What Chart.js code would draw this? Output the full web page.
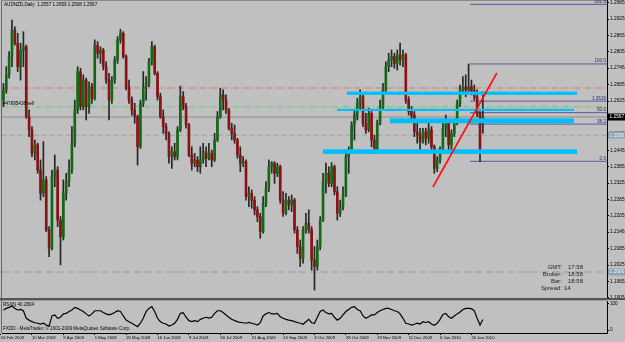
<!DOCTYPE html>
<html><head><meta charset="utf-8">
<script src="https://cdn.jsdelivr.net/npm/chart.js@4.4.1/dist/chart.umd.min.js"></script>
<style>
html,body{margin:0;padding:0;background:#c0c0c0;}
#wrap{position:relative;width:625px;height:342px;overflow:hidden;background:#c0c0c0;}
canvas{position:absolute;left:0;}
#main{top:0;}
#ind{top:300px;}
</style></head><body>
<div id="wrap"><canvas id="main" width="625" height="300"></canvas><canvas id="ind" width="625" height="42"></canvas></div>
<script>
// ---------- DATA ----------
const openP = [
1.2629,1.2666,1.2721,1.2788,1.2885,1.2837,1.2751,1.2812,1.2824,1.2568,
1.2520,1.2434,1.2465,1.2373,1.2288,1.2337,1.2154,1.2087,1.2349,1.2373,
1.2190,1.2129,1.2288,1.2331,1.2373,1.2471,1.2593,1.2733,1.2605,1.2702,
1.2605,1.2678,1.2635,1.2830,1.2800,1.2812,1.2751,1.2702,1.2629,1.2702,
1.2776,1.2849,1.2873,1.2788,1.2678,1.2629,1.2593,1.2568,1.2458,1.2617,
1.2678,1.2690,1.2769,1.2824,1.2727,1.2641,1.2568,1.2532,1.2507,1.2422,
1.2440,1.2422,1.2520,1.2641,1.2605,1.2538,1.2428,1.2398,1.2410,1.2385,
1.2410,1.2440,1.2416,1.2434,1.2410,1.2483,1.2568,1.2648,1.2629,1.2593,
1.2526,1.2507,1.2483,1.2428,1.2398,1.2404,1.2276,1.2288,1.2263,1.2227,
1.2203,1.2148,1.2251,1.2306,1.2385,1.2398,1.2361,1.2385,1.2263,1.2215,
1.2263,1.2245,1.2263,1.2154,1.2093,1.2050,1.2154,1.2178,1.2154,1.2044,
1.2020,1.2093,1.2190,1.2331,1.2361,1.2324,1.2385,1.2294,1.2215,1.2239,
1.2282,1.2422,1.2446,1.2538,1.2574,1.2617,1.2641,1.2544,1.2520,1.2580,
1.2483,1.2452,1.2544,1.2605,1.2666,1.2751,1.2776,1.2788,1.2763,1.2794,
1.2776,1.2794,1.2629,1.2587,1.2574,1.2513,1.2501,1.2477,1.2513,1.2489,
1.2520,1.2458,1.2379,1.2410,1.2452,1.2526,1.2544,1.2465,1.2507,1.2544,
1.2617,1.2666,1.2676,1.2666,1.2678,1.2663,1.2641,1.2580,1.2557];
const highP = [
1.2690,1.2751,1.2806,1.2922,1.2897,1.2873,1.2837,1.2879,1.2830,1.2593,
1.2532,1.2483,1.2471,1.2410,1.2477,1.2349,1.2166,1.2373,1.2428,1.2385,
1.2203,1.2337,1.2361,1.2410,1.2532,1.2629,1.2751,1.2745,1.2721,1.2709,
1.2696,1.2690,1.2849,1.2843,1.2824,1.2818,1.2769,1.2727,1.2715,1.2788,
1.2861,1.2888,1.2879,1.2794,1.2702,1.2641,1.2617,1.2574,1.2629,1.2733,
1.2715,1.2782,1.2843,1.2830,1.2733,1.2654,1.2593,1.2544,1.2513,1.2458,
1.2471,1.2532,1.2680,1.2660,1.2617,1.2544,1.2458,1.2434,1.2422,1.2458,
1.2471,1.2458,1.2471,1.2446,1.2507,1.2587,1.2672,1.2666,1.2648,1.2599,
1.2544,1.2538,1.2489,1.2458,1.2422,1.2410,1.2312,1.2300,1.2276,1.2239,
1.2215,1.2276,1.2331,1.2410,1.2404,1.2404,1.2398,1.2391,1.2294,1.2288,
1.2276,1.2282,1.2270,1.2166,1.2117,1.2166,1.2215,1.2227,1.2166,1.2093,
1.2117,1.2203,1.2361,1.2398,1.2385,1.2400,1.2391,1.2312,1.2263,1.2312,
1.2446,1.2458,1.2550,1.2593,1.2635,1.2666,1.2648,1.2580,1.2599,1.2587,
1.2501,1.2556,1.2629,1.2690,1.2769,1.2800,1.2812,1.2800,1.2812,1.2837,
1.2812,1.2800,1.2641,1.2605,1.2587,1.2544,1.2526,1.2526,1.2526,1.2544,
1.2532,1.2465,1.2422,1.2458,1.2544,1.2574,1.2550,1.2520,1.2556,1.2629,
1.2684,1.2715,1.2721,1.2761,1.2702,1.2684,1.2666,1.2587,1.2659];
const lowP = [
1.2605,1.2654,1.2709,1.2751,1.2830,1.2733,1.2702,1.2751,1.2562,1.2495,
1.2422,1.2410,1.2361,1.2263,1.2276,1.2148,1.2056,1.2081,1.2312,1.2166,
1.2026,1.2117,1.2263,1.2312,1.2361,1.2458,1.2580,1.2593,1.2593,1.2556,
1.2580,1.2617,1.2629,1.2782,1.2763,1.2739,1.2690,1.2556,1.2617,1.2690,
1.2763,1.2837,1.2782,1.2666,1.2617,1.2574,1.2544,1.2391,1.2452,1.2605,
1.2629,1.2678,1.2757,1.2721,1.2629,1.2562,1.2507,1.2483,1.2398,1.2379,
1.2410,1.2410,1.2513,1.2593,1.2526,1.2422,1.2373,1.2385,1.2367,1.2361,
1.2398,1.2385,1.2410,1.2385,1.2404,1.2477,1.2562,1.2593,1.2580,1.2520,
1.2483,1.2471,1.2416,1.2367,1.2385,1.2263,1.2239,1.2233,1.2209,1.2184,
1.2123,1.2142,1.2239,1.2294,1.2361,1.2324,1.2349,1.2251,1.2203,1.2209,
1.2227,1.2221,1.2142,1.2068,1.2020,1.2032,1.2142,1.2142,1.2007,1.1934,
1.2007,1.2081,1.2184,1.2288,1.2312,1.2312,1.2282,1.2190,1.2203,1.2227,
1.2276,1.2361,1.2434,1.2483,1.2556,1.2593,1.2532,1.2507,1.2513,1.2458,
1.2434,1.2446,1.2538,1.2593,1.2660,1.2733,1.2751,1.2745,1.2739,1.2757,
1.2751,1.2617,1.2574,1.2556,1.2495,1.2471,1.2446,1.2471,1.2465,1.2471,
1.2446,1.2361,1.2367,1.2398,1.2446,1.2495,1.2440,1.2434,1.2495,1.2538,
1.2605,1.2654,1.2641,1.2654,1.2648,1.2629,1.2568,1.2404,1.2508];
const closeP = [
1.2666,1.2721,1.2788,1.2885,1.2837,1.2751,1.2812,1.2824,1.2568,1.2520,
1.2434,1.2465,1.2373,1.2288,1.2337,1.2154,1.2087,1.2349,1.2373,1.2190,
1.2129,1.2288,1.2331,1.2373,1.2471,1.2593,1.2733,1.2605,1.2702,1.2605,
1.2678,1.2635,1.2830,1.2800,1.2812,1.2751,1.2702,1.2629,1.2702,1.2776,
1.2849,1.2873,1.2788,1.2678,1.2629,1.2593,1.2568,1.2458,1.2617,1.2678,
1.2690,1.2769,1.2824,1.2727,1.2641,1.2568,1.2532,1.2507,1.2422,1.2440,
1.2422,1.2520,1.2641,1.2605,1.2538,1.2428,1.2398,1.2410,1.2385,1.2410,
1.2440,1.2416,1.2434,1.2410,1.2483,1.2568,1.2648,1.2629,1.2593,1.2526,
1.2507,1.2483,1.2428,1.2398,1.2404,1.2276,1.2288,1.2263,1.2227,1.2203,
1.2148,1.2251,1.2306,1.2385,1.2398,1.2361,1.2385,1.2263,1.2215,1.2263,
1.2245,1.2263,1.2154,1.2093,1.2050,1.2154,1.2178,1.2154,1.2044,1.2020,
1.2093,1.2190,1.2331,1.2361,1.2324,1.2385,1.2294,1.2215,1.2239,1.2282,
1.2422,1.2446,1.2538,1.2574,1.2617,1.2641,1.2544,1.2520,1.2580,1.2483,
1.2452,1.2544,1.2605,1.2666,1.2751,1.2776,1.2788,1.2763,1.2794,1.2776,
1.2794,1.2629,1.2587,1.2574,1.2513,1.2501,1.2477,1.2513,1.2489,1.2520,
1.2458,1.2379,1.2410,1.2452,1.2526,1.2544,1.2465,1.2507,1.2544,1.2617,
1.2666,1.2676,1.2666,1.2678,1.2663,1.2641,1.2580,1.2440,1.2567];
const rsiValues = [
77,83,87,92,83,77,79,74,45,38,
32,28,26,23,26,19,15,54,58,45,
49,62,64,71,77,87,83,77,71,62,
54,62,74,74,74,67,62,58,62,67,
74,71,54,38,32,26,19,13,26,45,
71,83,90,71,45,32,26,23,15,19,
26,41,64,67,49,36,32,36,32,41,
45,49,46,49,64,74,74,67,58,49,
41,36,32,29,28,26,29,26,23,19,
28,54,62,67,62,62,64,51,45,41,
38,36,32,29,26,22,32,41,28,26,
49,71,77,67,62,64,49,38,45,58,
71,79,87,90,79,74,54,45,51,58,
58,67,74,79,83,83,79,74,71,62,
45,26,23,19,22,26,23,32,29,32,
23,18,26,41,60,64,51,45,54,62,
69,79,83,83,82,74,45,19,40.28];
const priceTickValues = [1.2985,1.2925,1.2865,1.2805,1.2746,1.2685,1.2625,1.2565,1.2505,1.2445,1.2385,1.2325,1.2265,1.2205,1.2146,1.2085,1.2025,1.1965,1.1905];
const dateLabels = ['24 Feb 2009','10 Mar 2009','9 Apr 2009','1 May 2009','26 May 2009','16 Jun 2009','9 Jul 2009','30 Jul 2009','21 Aug 2009','14 Sep 2009','6 Oct 2009','28 Oct 2009','19 Nov 2009','11 Dec 2009','6 Jan 2010','20 Jan 2010'];
const dateTickBars = [-1,10,21,32,43,54,65,76,87,98,109,120,131,142,153,164];
const hLevels = [1.2673, 1.2604, 1.2567, 1.2500, 1.2000]; // red d-d, green d-d (sell), bid, grey dash, blue dash
const fibPrices = [1.2979, 1.2761, 1.2625, 1.2583, 1.2541, 1.2405];
const fibLabels = ['161.8','100.0','1.2626','50.0','38.2','0.0'];
const fibStartBar = 163.5;
const zones = [ // [fromBar, toBar, lowPrice, highPrice]
  [120.4, 201.0, 1.2648, 1.2660],
  [116.9, 199.9, 1.2589, 1.2597],
  [135.4, 199.9, 1.2544, 1.2562],
  [112.0, 201.0, 1.2432, 1.2449]];
const trendPts = [[150.5, 1.2311],[172.9, 1.2728]];
const titleText = 'AUDNZD,Daily  1.2557 1.2659 1.2508 1.2567';
const sellText = '#47695438 sell';
const infoLabels = ['GMT:','Broker:','Bar:','Spread:'];
const infoValues = ['17:58','18:58','18:58','14'];
const rsiTitle = 'RSI(6) 40.2804';
const copyText = 'FXDD - MetaTrader, \u00A9 2001-2009 MetaQuotes Software Corp.';

// ---------- CHART ----------
const FF = '"Liberation Sans", Arial, sans-serif';
const N = closeP.length;
const idx = Array.from({length:N},(_,i)=>i);
const XMIN = -0.5, XMAX = 211.5;

const wickData = idx.map(i=>({x:i, y:[lowP[i], highP[i]]}));
const bodyData = idx.map(i=>({x:i, y:[Math.min(openP[i],closeP[i]), Math.max(openP[i],closeP[i])]}));
const bodyColors = idx.map(i=> closeP[i] >= openP[i] ? '#136a16' : '#8a1212');

const hStyles = [
  {c:'#d87474', d:[6,2,1,2]},
  {c:'#5fcf5f', d:[6,2,1,2]},
  {c:'#8c8c8c', d:[]},
  {c:'#a2a2a2', d:[5,3]},
  {c:'#8a9cb0', d:[7,4]}];

const datasets = [];
hLevels.forEach((p,k)=>{
  datasets.push({type:'line', data:[{x:XMIN,y:p},{x:XMAX,y:p}], borderColor:hStyles[k].c, borderDash:hStyles[k].d, borderWidth:1, pointRadius:0, order:30});
});
fibPrices.forEach(p=>{
  datasets.push({type:'line', data:[{x:fibStartBar,y:p},{x:XMAX,y:p}], borderColor:'#5b5b9c', borderWidth:1, pointRadius:0, order:25});
});
datasets.push({type:'bar', data:wickData, backgroundColor:'#262626', barThickness:1, grouped:false, order:12});
datasets.push({type:'bar', data:bodyData, backgroundColor:bodyColors, borderColor:'#1c1c1c', borderWidth:0, barThickness:2, minBarLength:1, grouped:false, order:10});
datasets.push({type:'line', id:'trend', data:trendPts.map(p=>({x:p[0],y:p[1]})), borderColor:'#ff1010', borderWidth:1.6, pointRadius:0, order:0});

function box(ctx, y, text, bg, fg){
  ctx.fillStyle = bg; ctx.fillRect(608, Math.round(y)-3.5, 17, 7);
  ctx.fillStyle = fg; ctx.font = '4.8px '+FF; ctx.textAlign='left'; ctx.textBaseline='middle';
  ctx.fillText(text, 609.5, y);
}

const mainPlugin = {
  id:'mainDecor',
  beforeDatasetDraw(chart, args){
    const ds = chart.data.datasets[args.index];
    if (ds.id !== 'trend') return;
    const {ctx, scales:{x, y}} = chart;
    ctx.save();
    ctx.fillStyle = '#00bef8';
    zones.forEach(z=>{
      const x0 = x.getPixelForValue(z[0]), x1 = x.getPixelForValue(z[1]);
      const yt = y.getPixelForValue(z[3]), yb = y.getPixelForValue(z[2]);
      ctx.fillRect(x0, yt, x1-x0, Math.max(2, yb-yt));
    });
    ctx.restore();
  },
  afterDraw(chart){
    const {ctx, scales:{y}} = chart;
    ctx.save();
    ctx.fillStyle = '#6a6a6a'; ctx.fillRect(1, 0, 1, 300);
    ctx.fillStyle = '#8a8a8a'; ctx.fillRect(1, 0, 606, 1);
    ctx.fillStyle = '#555'; ctx.fillRect(0, 298, 625, 2);
    ctx.fillStyle = '#000'; ctx.font = '4.6px '+FF; ctx.textAlign='left'; ctx.textBaseline='middle';
    ctx.fillText(titleText, 4, 5);
    ctx.fillText(sellText, 3, y.getPixelForValue(hLevels[1]) - 3.5);
    ctx.fillStyle = '#2a2a7e'; ctx.textAlign='right'; ctx.textBaseline='bottom'; ctx.font='4.6px '+FF;
    fibPrices.forEach((p,k)=>{ ctx.fillText(fibLabels[k], 606, y.getPixelForValue(p) - 0.5); });
    box(ctx, y.getPixelForValue(hLevels[2]), hLevels[2].toFixed(4), '#000', '#fff');
    box(ctx, y.getPixelForValue(hLevels[3]), hLevels[3].toFixed(4), '#8fa2b6', '#eef3f8');
    box(ctx, y.getPixelForValue(hLevels[4]), hLevels[4].toFixed(4), '#8fa2b6', '#eef3f8');
    ctx.fillStyle = '#1e1e1e'; ctx.font = '6px '+FF; ctx.textBaseline='middle';
    const ys = [267, 274.3, 281.5, 288.7];
    const vx = [568, 568, 568, 564];
    infoLabels.forEach((t,k)=>{
      ctx.textAlign='right'; ctx.fillText(t, 562, ys[k]);
      ctx.textAlign='left'; ctx.fillText(infoValues[k], vx[k], ys[k]);
    });
    ctx.restore();
  }
};

new Chart(document.getElementById('main'), {
  type:'bar',
  data:{datasets},
  options:{
    responsive:false, animation:false, devicePixelRatio:1,
    layout:{padding:{left:2,right:0,top:0,bottom:2}},
    plugins:{legend:{display:false}, tooltip:{enabled:false}},
    scales:{
      x:{type:'linear', min:XMIN, max:XMAX, offset:false, display:false},
      y:{position:'right', min:1.19049, max:1.2995, beginAtZero:false,
        afterBuildTicks:s=>{ s.ticks = priceTickValues.map(v=>({value:v})); },
        afterFit:s=>{ s.width = 18; s.paddingTop = 0; s.paddingBottom = 0; },
        ticks:{autoSkip:false, padding:1, color:'#000', font:{size:4.8, family:FF}, callback:v=>Number(v).toFixed(4)},
        grid:{drawOnChartArea:false, drawTicks:true, tickLength:2, color:'#000'},
        border:{display:true, color:'#000', width:1}
      }
    }
  },
  plugins:[mainPlugin]
});

const indPlugin = {
  id:'indDecor',
  afterDraw(chart){
    const {ctx} = chart;
    ctx.save();
    ctx.fillStyle = '#9a9a9a'; ctx.fillRect(0, 0, 607, 1);
    ctx.fillStyle = '#6a6a6a'; ctx.fillRect(1, 0, 1, 33);
    ctx.fillStyle = '#000'; ctx.font = '4.6px '+FF; ctx.textAlign='left'; ctx.textBaseline='middle';
    ctx.fillText(rsiTitle, 3, 5);
    ctx.fillText(copyText, 3, 29);
    ctx.restore();
  }
};

new Chart(document.getElementById('ind'), {
  type:'line',
  data:{datasets:[{data:idx.map(i=>({x:i, y:rsiValues[i]})), borderColor:'#000', borderWidth:1.2, pointRadius:0, tension:0}]},
  options:{
    responsive:false, animation:false, devicePixelRatio:1,
    layout:{padding:{left:2,right:0,top:1,bottom:0}},
    plugins:{legend:{display:false}, tooltip:{enabled:false}},
    scales:{
      x:{type:'linear', min:XMIN, max:XMAX, offset:false, position:'bottom',
        afterBuildTicks:s=>{ s.ticks = dateTickBars.map(v=>({value:v})); },
        afterFit:s=>{ s.height = 9; s.paddingLeft = 0; s.paddingRight = 0; },
        ticks:{autoSkip:false, maxRotation:0, minRotation:0, align:'start', padding:0.5, color:'#000', font:{size:4.2, family:FF}, callback:(v,i)=>dateLabels[i]},
        grid:{drawOnChartArea:false, drawTicks:true, tickLength:2, color:'#000'},
        border:{display:true, color:'#000', width:1}
      },
      y:{position:'right', min:-11.5, max:111.5,
        afterBuildTicks:s=>{ s.ticks = [{value:100},{value:0}]; },
        afterFit:s=>{ s.width = 18; s.paddingTop = 0; s.paddingBottom = 0; },
        ticks:{autoSkip:false, padding:1, color:'#000', font:{size:4.6, family:FF}, callback:v=>String(v)},
        grid:{drawOnChartArea:false, drawTicks:true, tickLength:2, color:'#000'},
        border:{display:true, color:'#000', width:1}
      }
    }
  },
  plugins:[indPlugin]
});
</script>
</body></html>
